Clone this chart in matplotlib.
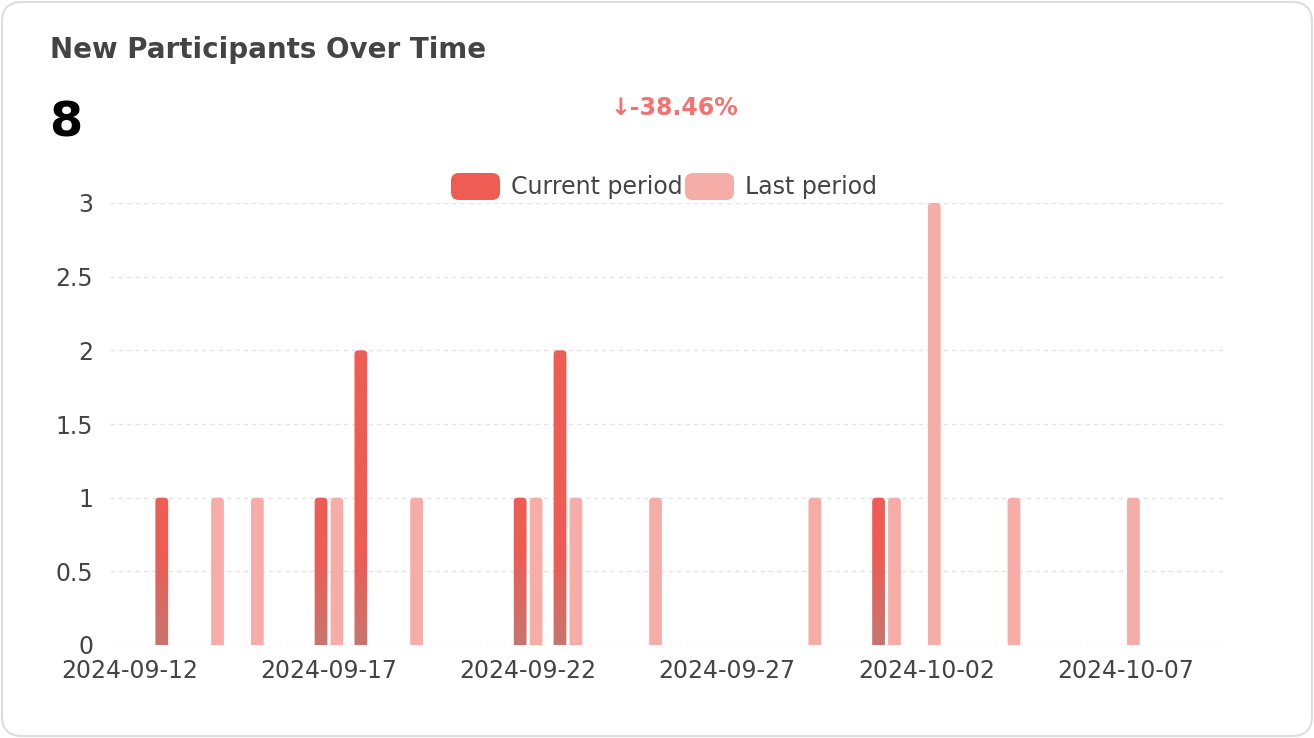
import numpy as np
import matplotlib
matplotlib.use("Agg")
import matplotlib.pyplot as plt
import matplotlib.dates as mdates
from matplotlib.patches import FancyBboxPatch
from matplotlib.colors import to_rgb
from datetime import datetime, timedelta

# data
current_dates = ["2024-09-13", "2024-09-17", "2024-09-18", "2024-09-22", "2024-09-23", "2024-10-01"]
current_vals = [1, 1, 2, 1, 2, 1]
last_dates = ["2024-09-14", "2024-09-15", "2024-09-17", "2024-09-19", "2024-09-22", "2024-09-23",
              "2024-09-25", "2024-09-29", "2024-10-01", "2024-10-02", "2024-10-04", "2024-10-07"]
last_vals = [1, 1, 1, 1, 1, 1, 1, 1, 1, 3, 1, 1]
tick_dates = ["2024-09-12", "2024-09-17", "2024-09-22", "2024-09-27", "2024-10-02", "2024-10-07"]
y_ticks = [0, 0.5, 1, 1.5, 2, 2.5, 3]
y_labels = ["0", "0.5", "1", "1.5", "2", "2.5", "3"]

title = "New Participants Over Time"
total = "8"
change = "↓-38.46%"
legend_labels = ["Current period", "Last period"]

cur_color = "#EE5C54"
last_color = "#F6ADA8"
shade_color = "#C8756F"
text_color = "#444444"

W, H = 1314, 738
fig = plt.figure(figsize=(W / 100, H / 100), dpi=100)
fig.patch.set_facecolor("white")

# card border
card = FancyBboxPatch((2 / W, 2 / H), 1 - 4 / W, 1 - 4 / H,
                      boxstyle="round,pad=0,rounding_size=0.0152",
                      mutation_aspect=W / H, transform=fig.transFigure,
                      facecolor="none", edgecolor="#DDDDDD", linewidth=1.5, zorder=-1)
fig.patches.append(card)

ax = fig.add_axes([110 / W, 93 / H, 1115 / W, 442 / H])
ax.set_facecolor("none")
ax.set_zorder(2)


def to_num(s, off=0.0):
    return mdates.date2num(datetime.strptime(s, "%Y-%m-%d") + timedelta(days=off))


xc = [to_num(d, -0.2) for d in current_dates]
xl = [to_num(d, 0.2) for d in last_dates]
bw = 0.32

bars_c = ax.bar(xc, current_vals, width=bw, color=cur_color, zorder=3)
bars_l = ax.bar(xl, last_vals, width=bw, color=last_color, zorder=3)

# swap plain bars for rounded-top ones
aspect = 0.27
rounded_c = []
for bars in (bars_c, bars_l):
    for b in bars:
        x0, w, h = b.get_x(), b.get_width(), b.get_height()
        p = FancyBboxPatch((x0, -0.1), w, h + 0.1,
                           boxstyle="round,pad=0,rounding_size=0.1",
                           mutation_aspect=aspect, facecolor=b.get_facecolor(),
                           edgecolor="none", zorder=3)
        ax.add_patch(p)
        if bars is bars_c:
            p.set_facecolor("none")
            rounded_c.append((p, x0, w, h))
        b.set_visible(False)

# current bars filled with a gradient that darkens near the base
top_rgb = np.array(to_rgb(cur_color))
bot_rgb = np.array(to_rgb(shade_color))
shade_h = 0.6
for p, x0, w, h in rounded_c:
    yy = np.linspace(0, h, 256)[:, None]
    t = np.clip(yy / shade_h, 0, 1)
    grad = bot_rgb[None, :] * (1 - t) + top_rgb[None, :] * t
    img = np.repeat(grad[:, None, :], 2, axis=1)
    im = ax.imshow(img, extent=[x0 - 0.05, x0 + w + 0.05, 0, h + 0.05], origin="lower",
                   aspect="auto", zorder=4, interpolation="bilinear")
    im.set_clip_path(p)

ax.set_xlim(to_num("2024-09-11", 0.5), to_num("2024-10-09", 0.5))
ax.set_ylim(0, 3)
ax.set_xticks([to_num(d) for d in tick_dates])
ax.set_xticklabels(tick_dates)
ax.set_yticks(y_ticks)
ax.set_yticklabels(y_labels)
ax.tick_params(axis="both", length=0, labelsize=17, colors=text_color)
ax.tick_params(axis="y", pad=12)
ax.tick_params(axis="x", pad=10)
ax.grid(axis="y", color="#E3E3E3", linewidth=1, linestyle=(0, (3, 3)), zorder=1)
for s in ax.spines.values():
    s.set_visible(False)

# header texts
fig.text(50 / W, 1 - 50 / H, title, fontsize=20, fontweight="bold",
         color=text_color, va="center", ha="left")
fig.text(49 / W, 1 - 123 / H, total, fontsize=34.5, fontweight="bold",
         color="black", va="center", ha="left")
fig.text(674 / W, 1 - 108 / H, change, fontsize=17, fontweight="bold",
         color="#F47272", va="center", ha="center")

# legend
leg_items = [(451, cur_color, legend_labels[0]), (685, last_color, legend_labels[1])]
for lx, col, lab in leg_items:
    box = FancyBboxPatch((lx / W, (H - 200) / H), 49 / W, 27 / H,
                         boxstyle="round,pad=0,rounding_size=0.006",
                         mutation_aspect=W / H, transform=fig.transFigure,
                         facecolor=col, edgecolor="none", zorder=5)
    fig.patches.append(box)
    fig.text((lx + 60) / W, 1 - 187 / H, lab, fontsize=17, color=text_color,
             va="center", ha="left")

fig.savefig("out.png", dpi=100, facecolor="white")
